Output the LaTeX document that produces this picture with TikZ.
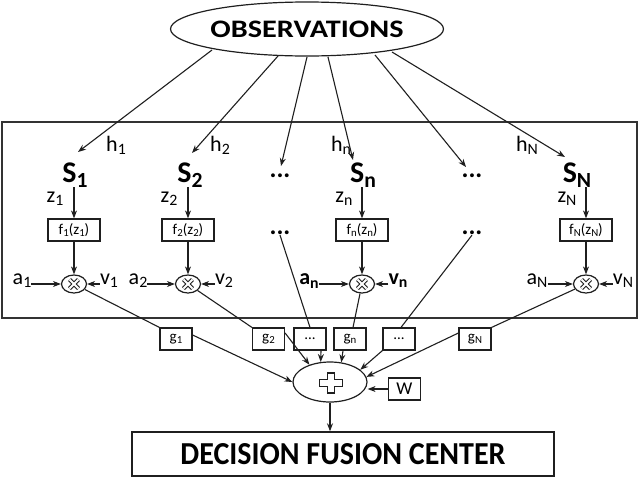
\documentclass[tikz,border=0pt]{standalone}
\usepackage{fontspec}
\setmainfont{Carlito}
\usepackage{graphicx}
\usetikzlibrary{shapes.geometric,arrows.meta}
\newcommand{\dn}[1]{\raisebox{-0.3ex}{\scalebox{0.72}{#1}}}
\begin{document}
\begin{tikzpicture}[x=1pt,y=-1pt,
  ln/.style={line width=1.1pt, draw=black!88},
  arr/.style={ln, -{Stealth[length=8pt,width=6pt]}},
  lab/.style={inner sep=0pt, font=\fontsize{22}{22}\selectfont},
  sen/.style={inner sep=0pt, font=\bfseries\fontsize{30}{30}\selectfont},
  dts/.style={inner sep=0pt, font=\bfseries\fontsize{26}{26}\selectfont},
  fbx/.style={draw=black!88, line width=1.2pt, minimum width=52pt, minimum height=22pt, inner sep=0pt, font=\fontsize{15}{15}\selectfont},
  gbx/.style={draw=black!88, line width=1.2pt, minimum width=32pt, minimum height=22pt, inner sep=0pt, font=\fontsize{15}{15}\selectfont},
  mul/.style={ellipse, draw=black!88, line width=1.2pt, minimum width=25pt, minimum height=18pt, inner sep=0pt},
]
\useasboundingbox (0,0) rectangle (640,477);

% observations
\node[ellipse, draw=black!88, line width=1.2pt, minimum width=272pt, minimum height=54pt, inner sep=0pt] (obs) at (307,29)
  {\resizebox{193pt}{16.5pt}{\bfseries OBSERVATIONS}};

% frame
\node[draw=black!80, line width=1.6pt, minimum width=635pt, minimum height=196pt, inner sep=0pt] (frame) at (319.5,220) {};

% sensors
\node[sen] (s1) at (75,175) {S\dn{1}};
\node[sen] (s2) at (190,175) {S\dn{2}};
\node[sen] (sn) at (363,175) {S\dn{n}};
\node[sen] (sN) at (577,175) {S\dn{N}};
\node[dts] (d3a) at (280,176) {...};
\node[dts] (d5a) at (472,176) {...};
\node[dts] (d3b) at (280,233) {...};
\node[dts] (d5b) at (472,233) {...};

% channel labels
\node[lab] (h1) at (116,145) {h\dn{1}};
\node[lab] (h2) at (220,145) {h\dn{2}};
\node[lab] (hn) at (341,145) {h\dn{n}};
\node[lab] (hN) at (527,145) {h\dn{N}};

% observation arrows
\coordinate (o1) at (212,50); \coordinate (e1) at (78,152);
\coordinate (o2) at (278,56); \coordinate (e2) at (192,153);
\coordinate (o3) at (307,57); \coordinate (e3) at (281,166);
\coordinate (o4) at (328,57); \coordinate (e4) at (353,160);
\coordinate (o5) at (375,55); \coordinate (e5) at (466,167);
\coordinate (o6) at (392,52); \coordinate (e6) at (565,157);
\draw[arr] (o1) -- (e1);
\draw[arr] (o2) -- (e2);
\draw[arr] (o3) -- (e3);
\draw[arr] (o4) -- (e4);
\draw[arr] (o5) -- (e5);
\draw[arr] (o6) -- (e6);

% z labels
\node[lab] (z1) at (55,199) {z\dn{1}};
\node[lab] (z2) at (169,199) {z\dn{2}};
\node[lab] (zn) at (344,199) {z\dn{n}};
\node[lab] (zN) at (567,199) {z\dn{N}};

% f boxes
\node[fbx] (f1) at (74,230) {f\dn{1}(z\dn{1})};
\node[fbx] (f2) at (188,230) {f\dn{2}(z\dn{2})};
\node[fbx] (fn) at (362,230) {f\dn{n}(z\dn{n})};
\node[fbx] (fN) at (586,230) {f\dn{N}(z\dn{N})};

\draw[arr] (f1.north |- s1.south) -- (f1.north);
\draw[arr] (f2.north |- s2.south) -- (f2.north);
\draw[arr] (fn.north |- sn.south) -- (fn.north);
\draw[arr] (fN.north |- sN.south) -- (fN.north);

% multipliers
\node[mul] (m1) at (74,284) {};
\node[mul] (m2) at (188,284) {};
\node[mul] (mn) at (362,284) {};
\node[mul] (mN) at (586,284) {};
\foreach \m in {m1,m2,mn,mN}{
  \draw[line width=4.2pt, black!88] ([shift={(-4.5,-4.5)}]\m.center) -- ([shift={(4.5,4.5)}]\m.center);
  \draw[line width=4.2pt, black!88] ([shift={(-4.5,4.5)}]\m.center) -- ([shift={(4.5,-4.5)}]\m.center);
  \draw[line width=1.8pt, white] ([shift={(-4.5,-4.5)}]\m.center) -- ([shift={(4.5,4.5)}]\m.center);
  \draw[line width=1.8pt, white] ([shift={(-4.5,4.5)}]\m.center) -- ([shift={(4.5,-4.5)}]\m.center);
}
\draw[arr] (f1.south) -- (m1.north);
\draw[arr] (f2.south) -- (m2.north);
\draw[arr] (fn.south) -- (mn.north);
\draw[arr] (fN.south) -- (mN.north);

% a and v labels
\node[lab] (a1) at (22,281) {a\dn{1}};
\node[lab] (a2) at (138,281) {a\dn{2}};
\node[lab] (an) at (309,281) {\bfseries a\dn{n}};
\node[lab] (aN) at (537,281) {a\dn{N}};
\node[lab] (v1) at (109,281) {v\dn{1}};
\node[lab] (v2) at (224,281) {v\dn{2}};
\node[lab] (vn) at (398,281) {\bfseries v\dn{n}};
\node[lab] (vN) at (623,281) {v\dn{N}};
\draw[arr] (a1.east |- m1) -- (m1.west);
\draw[arr] (a2.east |- m2) -- (m2.west);
\draw[arr] (an.east |- mn) -- (mn.west);
\draw[arr] (aN.east |- mN) -- (mN.west);
\draw[arr] (v1.west |- m1) -- (m1.east);
\draw[arr] (v2.west |- m2) -- (m2.east);
\draw[arr] (vn.west |- mn) -- (mn.east);
\draw[arr] (vN.west |- mN) -- (mN.east);

% g boxes
\node[gbx] (g1) at (176,339) {g\dn{1}};
\node[gbx] (g2) at (268.5,339) {g\dn{2}};
\node[gbx] (gd1) at (310,339) {...};
\node[gbx] (gn) at (350,339) {g\dn{n}};
\node[gbx] (gd2) at (399,339) {...};
\node[gbx] (gN) at (475,339) {g\dn{N}};

\draw[ln] (m1) -- (g1.north west);
\draw[ln] (m2) -- (g2.north west);
\draw[ln] (d3b.south) -- (gd1.north);
\draw[ln] (mn) -- ([xshift=3pt]gn.north);
\draw[ln] (d5b.south) -- ([xshift=2pt]gd2.north);
\draw[ln] (mN) -- (gN.north east);

% summation
\node[ellipse, draw=black!88, line width=1.2pt, minimum width=74pt, minimum height=40pt, inner sep=0pt] (sum) at (330,382) {};
\draw[line width=1.6pt, black!88] ([shift={(1,1)}]sum.center) ++(-3.5,-10) -- ++(7,0) -- ++(0,6.5) -- ++(8,0) -- ++(0,7) -- ++(-8,0) -- ++(0,6.5) -- ++(-7,0) -- ++(0,-6.5) -- ++(-8,0) -- ++(0,-7) -- ++(8,0) -- cycle;
\node[gbx, font=\fontsize{18}{18}\selectfont] (W) at (404.5,389) {W};

\draw[arr] ([yshift=4pt]g1.east) -- (sum.west);
\draw[arr] ([yshift=6pt]g2.east) -- (sum.140);
\draw[arr] ([xshift=11pt]gd1.south) -- (sum.115);
\draw[arr] ([xshift=-7pt]gn.south) -- (sum.60);
\draw[arr] (gd2.south west) -- (sum.22);
\draw[arr] ([yshift=6pt]gN.west) -- (sum.8);
\draw[arr] (W.west) -- (W.west -| sum.east);

% decision fusion center
\node[draw=black!88, line width=1.4pt, minimum width=422pt, minimum height=44pt, inner sep=0pt] (dfc) at (343,454)
  {\resizebox{325pt}{21pt}{\bfseries DECISION FUSION CENTER}};
\draw[arr] (sum.south) -- (sum.south |- dfc.north);
\end{tikzpicture}
\end{document}
